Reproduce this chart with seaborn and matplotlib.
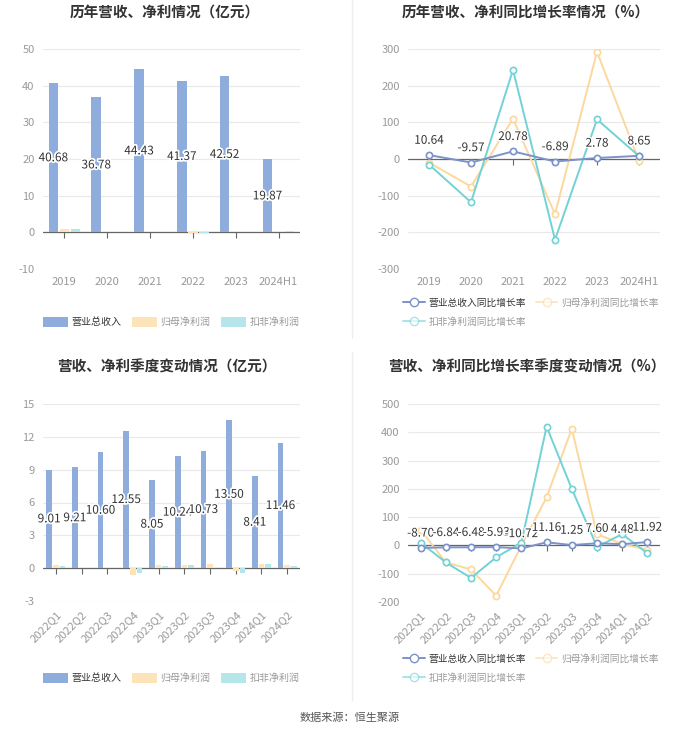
import pandas as pd
import matplotlib.pyplot as plt
import matplotlib.patheffects as pe
from matplotlib.lines import Line2D
import seaborn as sns

sns.set_theme(style="white")
plt.rcParams['font.family'] = ['Noto Sans CJK SC', 'DejaVu Sans']
plt.rcParams['axes.unicode_minus'] = False

# 年度数据
years = ['2019', '2020', '2021', '2022', '2023', '2024H1']
rev_y = [40.68, 36.78, 44.43, 41.37, 42.52, 19.87]
np_y = [1.0, 0.15, 0.4, -0.2, 0.4, 0.3]
dnp_y = [0.9, 0.1, 0.2, -0.3, 0.1, 0.4]
rev_g_y = [10.64, -9.57, 20.78, -6.89, 2.78, 8.65]
np_g_y = [-10, -75, 110, -150, 292, -5]
dnp_g_y = [-15, -118, 243, -220, 108, 8]

# 季度数据
quarters = ['2022Q1', '2022Q2', '2022Q3', '2022Q4', '2023Q1',
            '2023Q2', '2023Q3', '2023Q4', '2024Q1', '2024Q2']
rev_q = [9.01, 9.21, 10.60, 12.55, 8.05, 10.24, 10.73, 13.50, 8.41, 11.46]
np_q = [0.25, 0.05, 0.05, -0.6, 0.3, 0.25, 0.35, -0.3, 0.35, 0.25]
dnp_q = [0.2, 0.05, 0.0, -0.45, 0.2, 0.3, 0.05, -0.45, 0.35, 0.2]
rev_g_q = [-8.70, -6.84, -6.48, -5.93, -10.72, 11.16, 1.25, 7.60, 4.48, 11.92]
np_g_q = [55, -60, -85, -178, 0, 170, 412, 40, 5, -15]
dnp_g_q = [10, -60, -115, -42, 10, 420, 200, -5, 40, -28]

bar_names = ['营业总收入', '归母净利润', '扣非净利润']
line_names = ['营业总收入同比增长率', '归母净利润同比增长率', '扣非净利润同比增长率']
bar_colors = ['#8eacdc', '#fde3b8', '#b4e6ea']
line_colors = ['#7b93c9', '#fcd89e', '#72d2d6']
GRAY = '#999999'
DARK = '#333333'

W, H = 700, 734
fig = plt.figure(figsize=(W / 100, H / 100), dpi=100)


def box(x0, x1, y0, y1):
    return [x0 / W, 1 - y1 / H, (x1 - x0) / W, (y1 - y0) / H]


def style_axis(ax, ylim, step, rotate=False):
    ax.set_ylim(*ylim)
    ax.set_yticks(range(ylim[0], ylim[1] + 1, step))
    ax.set_xlabel('')
    ax.set_ylabel('')
    for s in ax.spines.values():
        s.set_visible(False)
    ax.grid(axis='y', color='#e9e9e9', linewidth=0.8)
    ax.set_axisbelow(True)
    ax.tick_params(axis='both', colors=GRAY, labelsize=8, length=0, pad=6)
    ax.axhline(0, color='#666666', linewidth=0.9, zorder=1)
    sec = ax.secondary_xaxis(0, transform=ax.transData)
    sec.spines['bottom'].set_visible(False)
    sec.set_xticks(ax.get_xticks())
    sec.tick_params(axis='x', length=4, color='#666666', labelbottom=False, width=0.8)
    if rotate:
        plt.setp(ax.get_xticklabels(), rotation=45, ha='right', rotation_mode='anchor')


def bar_chart(rect, cats, rev, np_, dnp, ylim, step, rotate=False):
    ax = fig.add_axes(rect)
    df = pd.DataFrame({
        'period': cats * 3,
        'item': sum([[n] * len(cats) for n in bar_names], []),
        'value': rev + np_ + dnp,
    })
    sns.barplot(data=df, x='period', y='value', hue='item', palette=bar_colors,
                width=0.78, gap=0.15, saturation=1, linewidth=0,
                ax=ax, legend=False, zorder=2)
    ax.set_xlim(-0.5, len(cats) - 0.5)
    lab = ax.bar_label(ax.containers[0], labels=[f'{v:.2f}' for v in rev],
                       label_type='center', fontsize=8.5, color=DARK)
    for t in lab:
        t.set_path_effects([pe.withStroke(linewidth=2.5, foreground='white')])
    style_axis(ax, ylim, step, rotate)
    return ax


def line_chart(rect, cats, rev_g, np_g, dnp_g, ylim, step, rotate=False):
    ax = fig.add_axes(rect)
    series = [rev_g, np_g, dnp_g]
    for vals, c, z in zip(series, line_colors, [5, 3, 4]):
        sns.lineplot(x=cats, y=vals, sort=False, ax=ax, color=c, linewidth=1.4,
                     marker='o', markersize=4.5, markerfacecolor='white',
                     markeredgecolor=c, markeredgewidth=1.2, zorder=z)
    ax.set_xlim(-0.5, len(cats) - 0.5)
    for i, v in enumerate(rev_g):
        t = ax.annotate(f'{v:.2f}', (i, v), textcoords='offset points', xytext=(0, 6),
                        ha='center', va='bottom', fontsize=8.5, color=DARK, zorder=6)
        t.set_path_effects([pe.withStroke(linewidth=2, foreground='white')])
    style_axis(ax, ylim, step, rotate)
    return ax


def bar_legend(cx, cy):
    handles = [plt.Rectangle((0, 0), 1, 1, fc=c, ec='none') for c in bar_colors]
    leg = fig.legend(handles, bar_names, loc='center', bbox_to_anchor=(cx / W, 1 - cy / H),
                     ncol=3, frameon=False, fontsize=7.2, handlelength=2.5, handleheight=1.2,
                     columnspacing=1.0, handletextpad=0.4)
    for t, c in zip(leg.get_texts(), [DARK, GRAY, GRAY]):
        t.set_color(c)


def line_legend(cx, cy):
    handles = [Line2D([], [], color=c, marker='o', markersize=6, markerfacecolor='white',
                      markeredgecolor=c, linewidth=1.4) for c in line_colors]
    order = [0, 2, 1]
    leg = fig.legend([handles[i] for i in order], [line_names[i] for i in order],
                     loc='center', bbox_to_anchor=(cx / W, 1 - cy / H), ncol=2,
                     frameon=False, fontsize=7, handlelength=2.2, columnspacing=1.0,
                     handletextpad=0.4, labelspacing=0.9)
    for t, i in zip(leg.get_texts(), order):
        t.set_color(DARK if i == 0 else GRAY)
    for h, i in zip(leg.legend_handles, order):
        if i != 0:
            h.set_alpha(0.6)


bar_chart(box(43, 300, 49, 269), years, rev_y, np_y, dnp_y, (-10, 50), 10)
line_chart(box(408, 660, 49, 269), years, rev_g_y, np_g_y, dnp_g_y, (-300, 300), 100)
bar_chart(box(43, 300, 404, 601), quarters, rev_q, np_q, dnp_q, (-3, 15), 3, rotate=True)
line_chart(box(408, 660, 404, 602), quarters, rev_g_q, np_g_q, dnp_g_q, (-200, 500), 100, rotate=True)

title_kw = dict(ha='center', va='center', fontsize=10.5, fontweight='bold', color=DARK)
fig.text(165 / W, 1 - 13 / H, '历年营收、净利情况（亿元）', **title_kw)
fig.text(526 / W, 1 - 13 / H, '历年营收、净利同比增长率情况（%）', **title_kw)
fig.text(167 / W, 1 - 367 / H, '营收、净利季度变动情况（亿元）', **title_kw)
fig.text(527 / W, 1 - 367 / H, '营收、净利同比增长率季度变动情况（%）', **title_kw)

bar_legend(171, 322)
line_legend(531, 312)
bar_legend(171, 678)
line_legend(531, 668)

fig.add_artist(Line2D([352 / W, 352 / W], [1 - 0 / H, 1 - 338 / H], color='#eeeeee', linewidth=1))
fig.add_artist(Line2D([352 / W, 352 / W], [1 - 352 / H, 1 - 700 / H], color='#eeeeee', linewidth=1))

fig.text(0.5, 1 - 718 / H, '数据来源：恒生聚源', ha='center', va='center', fontsize=8, color='#555555')

fig.savefig('out.png', dpi=100)
